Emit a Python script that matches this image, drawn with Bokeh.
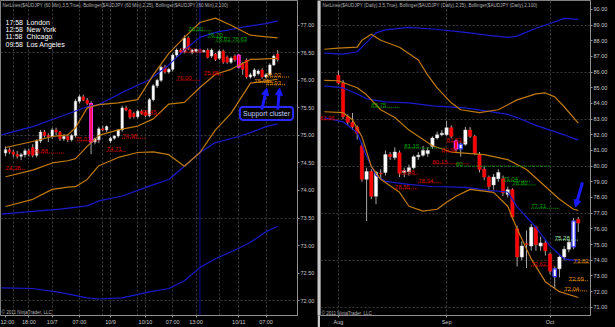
from bokeh.plotting import figure
from bokeh.layouts import row
from bokeh.models import ColumnDataSource, FixedTicker, Label, Range1d, Arrow, NormalHead, CustomJSTickFormatter
from bokeh.embed import file_html
from bokeh.resources import INLINE
from bokeh.core.properties import value

FONT = "Liberation Sans"
BG = "black"

# ---------------- Left panel: AUDJPY 60 Min ----------------
L_ticks = [0, 6, 12, 19, 27, 36, 43, 49, 60, 67]
L_tick_labels = ["12:00", "18:00", "10/7", "07:00", "10/9", "10/10", "07:00", "13:00", "10/11", "07:00"]
L_grid_x = [2, 6, 12, 19, 25, 27, 34, 36, 43, 49, 55, 60, 67]
L_grid_y = [72.0, 73.5, 75.0, 76.5]
L_yticks = [72.0, 72.5, 73.0, 73.5, 74.0, 74.5, 75.0, 75.5, 76.0, 76.5, 77.0]

L_idx = list(range(71))
L_open = [74.68, 74.74, 74.70, 74.66, 74.62, 74.65, 74.72, 74.78, 74.64, 74.90,
          75.06, 75.00, 74.98, 75.10, 75.06, 74.94, 74.98, 74.92, 75.00, 75.62,
          75.70, 75.64, 75.58, 74.88, 74.92, 75.12, 75.10, 74.90, 74.95, 74.99,
          75.10, 75.50, 75.46, 75.40, 75.34, 75.44, 75.42, 75.36, 75.65, 75.90,
          76.00, 76.24, 76.15, 76.20, 76.46, 76.55, 76.52, 76.77, 76.51, 76.53,
          76.56, 76.52, 76.55, 76.44, 76.48, 76.40, 76.53, 76.42, 76.33, 76.44,
          76.46, 76.30, 76.37, 76.06, 76.08, 76.12, 76.19, 76.06, 76.10, 76.28,
          76.48]
L_high = [74.80, 74.78, 74.74, 74.72, 74.68, 74.76, 74.76, 74.84, 74.93, 75.10,
          75.10, 75.04, 75.14, 75.14, 75.08, 75.02, 75.02, 75.03, 75.66, 75.74,
          75.74, 75.68, 75.62, 74.96, 75.16, 75.18, 75.18, 74.98, 75.00, 75.12,
          75.54, 75.54, 75.48, 75.43, 75.47, 75.47, 75.45, 75.68, 75.93, 76.03,
          76.27, 76.28, 76.23, 76.49, 76.58, 76.58, 76.82, 76.80, 76.57, 76.58,
          76.58, 76.56, 76.58, 76.58, 76.50, 76.56, 76.56, 76.45, 76.43, 76.47,
          76.48, 76.33, 76.40, 76.14, 76.22, 76.20, 76.22, 76.13, 76.31, 76.47,
          76.55]
L_low = [74.62, 74.66, 74.60, 74.58, 74.55, 74.60, 74.62, 74.60, 74.60, 74.86,
         74.96, 74.88, 74.94, 75.00, 74.90, 74.90, 74.88, 74.89, 74.96, 75.58,
         75.62, 75.55, 74.66, 74.84, 74.86, 75.08, 75.06, 74.86, 74.92, 74.96,
         75.07, 75.44, 75.30, 75.31, 75.31, 75.37, 75.33, 75.33, 75.62, 75.86,
         75.97, 76.12, 76.12, 76.16, 76.42, 76.48, 76.49, 76.55, 76.47, 76.50,
         76.49, 76.50, 76.40, 76.41, 76.35, 76.37, 76.30, 76.30, 76.30, 76.34,
         76.21, 76.10, 76.03, 76.03, 76.05, 76.09, 76.03, 76.03, 76.08, 76.26,
         76.34]
L_close = [74.74, 74.70, 74.66, 74.62, 74.65, 74.72, 74.66, 74.64, 74.90, 75.06,
           75.00, 74.98, 75.10, 75.06, 74.94, 74.98, 74.92, 75.00, 75.62, 75.70,
           75.64, 75.58, 74.88, 74.94, 75.12, 75.10, 75.16, 74.95, 74.99, 75.10,
           75.50, 75.46, 75.33, 75.34, 75.44, 75.40, 75.36, 75.65, 75.90, 76.00,
           76.24, 76.15, 76.20, 76.46, 76.55, 76.52, 76.77, 76.58, 76.55, 76.56,
           76.52, 76.54, 76.42, 76.55, 76.38, 76.53, 76.33, 76.33, 76.40, 76.37,
           76.24, 76.20, 76.06, 76.10, 76.19, 76.17, 76.06, 76.10, 76.28, 76.44,
           76.38]
L_hl_idx = [22, 60]
L_hl_color = ["#ff30ff", "#ff30ff"]

# Bollinger (2, 25) - orange
L_bb20_x = [0, 7, 12, 16, 18, 21, 24, 29, 34, 38, 42, 46, 50, 54, 58, 63, 70]
L_bb20_up = [74.78, 74.89, 74.98, 75.01, 75.14, 75.50, 75.56, 75.59, 75.65, 76.10,
             76.49, 76.78, 77.05, 77.13, 77.00, 76.82, 76.77]
L_bb20_mid = [74.25, 74.37, 74.50, 74.54, 74.58, 74.80, 75.00, 75.10, 75.17, 75.30,
              75.57, 75.60, 75.87, 76.11, 76.20, 76.38, 76.40]
L_bb20_lo = [73.71, 73.84, 74.02, 74.06, 74.07, 74.20, 74.45, 74.60, 74.69, 74.70,
             74.65, 74.44, 74.69, 75.10, 75.40, 75.95, 76.02]
# Bollinger (2, 100) - blue
L_bb100_x = [-1, 7, 14, 21, 24, 30, 37, 42, 46, 50, 54, 60, 63, 67, 70]
L_bb100_up = [75.01, 75.16, 75.34, 75.52, 75.56, 75.78, 76.01, 76.28, 76.55, 76.78,
              76.87, 76.95, 76.99, 77.03, 77.08]
L_bb100_mid = [73.57, 73.62, 73.66, 73.72, 73.81, 73.90, 74.08, 74.20, 74.44, 74.69,
               74.87, 74.98, 75.05, 75.16, 75.21]
L_bb100_lo = [72.23, 72.22, 72.15, 72.05, 72.03, 72.05, 72.16, 72.22, 72.36, 72.60,
              72.76, 72.95, 73.06, 73.25, 73.35]

# NetLines levels (left)
L_net_text = ["74.38", "74.88", "74.71", "74.98", "75.01", "75.45", "76.90", "76.70",
              "76.61 76.63", "76.51", "76.00", "75.88", "76.02", "75.96", "75.93"]
L_net_price = [74.38, 74.68, 74.71, 74.95, 74.90, 75.38, 76.90, 76.78, 76.70, 76.51,
               76.00, 76.10, 76.06, 75.96, 75.92]
L_net_x0 = [0, 7, 26, 30, 18, 35, 47, 52, 54, 45, 44, 51, 67, 64, 67]
L_net_x1 = [5, 15, 31, 36, 24, 40, 53, 57, 62, 51, 50, 56, 73, 69, 72]
L_net_color = ["#d00000", "#d00000", "#d00000", "#d00000", "#d00000", "#d00000",
               "#00a000", "#00a000", "#00a000", "#d00000", "#d00000", "#d00000",
               "#e08a00", "#e08a00", "#e08a00"]

L_marks_price = [77.08, 76.77, 76.40, 76.02, 75.21, 73.35]
L_marks_text = ["77.08", "76.77", "76.40", "76.02", "75.21", "73.35"]
L_marks_bg = ["#2a2aff", "#f0a020", "black", "#f0a020", "#2a2aff", "#2a2aff"]
L_marks_fg = ["white", "black", "white", "black", "white", "white"]
L_marks_border = [None, None, "white", None, None, None]

# ---------------- Right panel: AUDJPY Daily ----------------
R_ticks = [0, 23, 45]
R_tick_labels = ["Aug", "Sep", "Oct"]
R_grid_y = [71, 74, 77, 80, 83, 86, 89]
R_yticks = list(range(71, 91))

R_idx = list(range(52))
R_open = [85.80, 85.30, 83.15, 82.80, 82.50, 81.30, 79.16, 79.66, 78.08, 79.55,
          79.60, 80.74, 80.55, 80.85, 79.60, 79.65, 79.90, 80.60, 80.70, 80.80,
          81.25, 81.80, 82.00, 82.00, 82.45, 81.60, 81.10, 81.40, 82.30, 81.90,
          80.74, 79.80, 79.30, 78.80, 79.20, 79.20, 78.20, 78.50, 76.00, 74.20,
          75.05, 74.90, 76.10, 74.90, 75.10, 74.40, 72.95, 73.45, 74.20, 74.70,
          74.85, 76.60]
R_high = [86.10, 85.50, 83.30, 83.40, 82.60, 81.50, 79.90, 79.80, 79.70, 79.80,
          81.00, 80.90, 81.20, 81.00, 79.90, 80.10, 80.70, 80.90, 81.30, 81.20,
          81.90, 82.20, 82.30, 82.90, 82.60, 81.70, 81.50, 82.50, 82.50, 82.00,
          80.90, 80.00, 79.40, 79.50, 79.80, 79.40, 78.70, 78.60, 76.20, 75.20,
          75.90, 76.30, 76.20, 75.50, 75.30, 74.50, 73.60, 74.30, 74.90, 75.30,
          76.70, 76.75]
R_low = [85.20, 83.00, 82.60, 82.30, 81.70, 79.00, 76.50, 77.90, 77.57, 79.20,
         79.40, 80.40, 80.40, 79.30, 79.30, 79.40, 79.80, 80.40, 80.60, 80.60,
         81.10, 81.70, 81.90, 81.90, 81.80, 80.90, 80.60, 81.30, 81.80, 80.70,
         79.60, 79.10, 78.50, 78.50, 79.00, 78.10, 78.00, 76.60, 73.60, 74.00,
         73.50, 74.60, 74.60, 74.60, 74.30, 73.10, 72.20, 72.90, 74.00, 74.50,
         74.70, 75.80]
R_close = [85.30, 83.15, 82.80, 82.50, 82.10, 79.16, 79.66, 78.08, 79.60, 79.50,
           80.74, 80.60, 80.90, 79.55, 79.70, 79.90, 80.60, 80.70, 81.00, 81.00,
           81.80, 82.00, 82.10, 82.45, 81.90, 81.10, 81.40, 82.30, 81.90, 80.80,
           79.79, 79.30, 78.70, 79.30, 79.60, 78.30, 78.50, 76.75, 74.20, 74.90,
           75.00, 76.10, 75.00, 75.10, 74.60, 73.30, 73.45, 74.20, 74.70, 75.15,
           76.50, 76.37]
R_hl_idx = [25, 26, 46, 50]
R_hl_color = ["#ff30ff", "#3030ff", "#3030ff", "#3030ff"]

# Bollinger (2, 25) daily - orange
R_bbu_x = [-3, 0, 4, 5, 7, 9, 13, 17, 19, 21, 24, 26, 30, 34, 38, 42, 44, 46, 48, 51]
R_bbu_y = [87.46, 87.53, 87.59, 88.03, 88.41, 88.03, 87.59, 86.77, 85.81, 84.99,
           84.04, 83.60, 83.41, 83.60, 84.23, 84.61, 84.67, 84.42, 83.79, 82.74]
R_bbm_x = [-3, 0, 4, 6, 9, 12, 15, 20, 24, 31, 36, 40, 43, 47, 50, 51]
R_bbm_y = [85.47, 85.45, 85.00, 84.55, 83.60, 83.10, 82.30, 81.30, 80.90, 80.74,
           80.42, 79.79, 78.97, 77.89, 77.25, 77.18]
R_bbl_x = [-3, 1, 3, 5, 7, 9, 13, 15, 18, 21, 23, 25, 28, 33, 36, 38, 41, 44, 47, 51]
R_bbl_y = [83.47, 83.41, 82.96, 81.88, 79.98, 79.16, 78.33, 77.44, 77.13, 77.25,
           77.70, 78.08, 78.52, 78.33, 77.44, 75.99, 74.08, 72.63, 71.99, 71.62]
# Bollinger (2, 100) daily - blue
R_bb100_x = [-3, 1, 4, 6, 8, 10, 15, 20, 27, 32, 36, 38, 42, 45, 48, 51]
R_bb100_up = [87.21, 87.15, 87.30, 87.90, 88.50, 88.70, 88.86, 88.75, 88.54, 88.35,
              88.22, 88.30, 88.80, 89.10, 89.43, 89.36]
R_bb100_mid = [85.12, 84.99, 84.60, 84.30, 84.20, 84.10, 84.04, 83.85, 83.72, 83.50,
               83.30, 83.10, 82.60, 82.30, 82.00, 81.66]
R_bb100_lo = [83.09, 82.83, 82.14, 80.62, 79.40, 79.03, 78.84, 78.70, 78.65, 78.45,
              78.35, 77.40, 76.10, 74.91, 74.08, 73.96]

R_net_text = ["82.96", "83.75", "81.15", "81.53", "80.90", "80.15", "79.48", "78.94",
              "78.55", "80", "79.04", "78.80", "77.31", "73.62", "75.28", "73.82",
              "72.69", "72.04"]
R_net_price = [82.96, 83.75, 81.15, 81.53, 80.90, 80.15, 79.48, 78.94, 78.55, 80.00,
               79.04, 78.80, 77.31, 73.62, 75.28, 73.82, 72.69, 72.04]
R_net_x0 = [-4, 7, 14, 23, 22, 20, 13, 17, 12, 25, 35, 37, 41, 41, 46, 50, 49, 48]
R_net_x1 = [0, 13, 23, 27, 25, 28, 17, 22, 17, 45, 41, 42, 47, 46, 51, 54, 53, 53]
R_net_color = ["#d00000", "#00a000", "#00a000", "#d00000", "#d00000", "#d00000",
               "#d00000", "#d00000", "#d00000", "#00a000", "#00a000", "#00a000",
               "#00a000", "#d00000", "#a0e0a0", "#e08a00", "#e08a00", "#e08a00"]

R_marks_price = [89.36, 82.74, 81.66, 77.18, 76.37, 73.96, 71.62]
R_marks_text = ["89.36", "82.74", "81.66", "77.18", "76.37", "73.96", "71.62"]
R_marks_bg = ["#2a2aff", "#f0a020", "#2a2aff", "#f0a020", "black", "#2a2aff", "#f0a020"]
R_marks_fg = ["white", "black", "white", "black", "white", "white", "black"]
R_marks_border = [None, None, None, None, "white", None, None]

CLOCK_TIME = ["17:58", "12:58", "11:58", "09:58"]
CLOCK_CITY = ["London", "New York", "Chicago", "Los Angeles"]


def make_panel(width, frame_right, xr, yr, idx, o, h, l, c, bw, ticks, tick_labels,
               grid_x, grid_y, yticks, hl_idx, hl_color):
    p = figure(width=width, height=327, x_range=Range1d(*xr), y_range=Range1d(*yr),
               output_backend="svg", toolbar_location=None, y_axis_location="right",
               min_border_left=0, min_border_top=0, min_border_bottom=10,
               min_border_right=frame_right,
               background_fill_color=BG, border_fill_color=BG,
               outline_line_color="#808080", outline_line_width=1)
    for ax in (p.xaxis[0], p.yaxis[0]):
        ax.axis_line_color = "#909090"
        ax.major_tick_line_color = "#909090"
        ax.minor_tick_line_color = None
        ax.major_label_text_color = "#c8c8c8"
        ax.major_label_text_font = FONT
        ax.major_label_text_font_size = "5.5px"
        ax.major_tick_in = 0
        ax.major_tick_out = 2
        ax.major_label_standoff = 1
    p.xaxis.ticker = FixedTicker(ticks=ticks)
    p.xaxis.major_label_overrides = {t: s for t, s in zip(ticks, tick_labels)}
    p.yaxis.ticker = FixedTicker(ticks=yticks)
    p.yaxis.formatter = CustomJSTickFormatter(code="return tick.toFixed(2);")
    p.xgrid.ticker = FixedTicker(ticks=grid_x)
    p.ygrid.ticker = FixedTicker(ticks=grid_y)
    for g in (p.xgrid[0], p.ygrid[0]):
        g.grid_line_color = "#3c3c3c"
        g.grid_line_dash = "2 2"
        g.grid_line_width = 1

    up = [i for i in range(len(idx)) if c[i] >= o[i]]
    dn = [i for i in range(len(idx)) if c[i] < o[i]]
    src = ColumnDataSource(dict(x=idx, o=o, h=h, l=l, c=c))
    p.segment("x", "h", "x", "l", source=src, line_color="#a8a8a8", line_width=1)
    su = ColumnDataSource(dict(x=[idx[i] for i in up], o=[o[i] for i in up], c=[c[i] for i in up]))
    sd = ColumnDataSource(dict(x=[idx[i] for i in dn], o=[o[i] for i in dn], c=[c[i] for i in dn]))
    p.vbar(x="x", bottom="o", top="c", width=bw, source=su, fill_color="white",
           line_color="#d0d0d0", line_width=0.5)
    p.vbar(x="x", bottom="c", top="o", width=bw, source=sd, fill_color="#ff0000",
           line_color="#ff2020", line_width=0.5)
    sh = ColumnDataSource(dict(x=hl_idx, o=[o[i] for i in hl_idx], c=[c[i] for i in hl_idx],
                               col=hl_color))
    p.vbar(x="x", bottom="o", top="c", width=bw, source=sh, fill_color=None,
           line_color="col", line_width=1.2)
    return p


def add_line(p, xs, ys, color, width=1.2):
    p.line(xs, ys, line_color=color, line_width=width)


def add_netlines(p, x0, x1, price, text, color):
    s = ColumnDataSource(dict(x0=x0, x1=x1, y=price, t=text, c=color))
    p.segment("x0", "y", "x1", "y", source=s, line_color="c", line_dash="1 1", line_width=1)
    p.text("x0", "y", text="t", source=s, text_color="c", text_font=value(FONT),
           text_font_size=value("6px"), text_baseline="bottom", y_offset=0)


def add_marks(p, xs, price, text, bg, fg, border):
    for pr_, t, b, f, bd in zip(price, text, bg, fg, border):
        p.add_layout(Label(x=xs, y=pr_, x_units="screen", y_units="data", text=t,
                           text_font=FONT, text_font_size="5.5px", text_color=f,
                           text_baseline="middle", background_fill_color=b,
                           border_line_color=bd, border_line_width=1, padding=1,
                           border_radius=2))


# ---- Left panel ----
pl = make_panel(317, 19, (-1.3, 75.1), (71.73, 77.45), L_idx, L_open, L_high, L_low,
                L_close, 0.65, L_ticks, L_tick_labels, L_grid_x, L_grid_y, L_yticks,
                L_hl_idx, L_hl_color)
pl.line([50, 50], [71.73, 77.45], line_color="#1010a0", line_width=1)
for ys in (L_bb100_up, L_bb100_mid, L_bb100_lo):
    add_line(pl, L_bb100_x, ys, "#1a1ad0")
for ys in (L_bb20_up, L_bb20_mid, L_bb20_lo):
    add_line(pl, L_bb20_x, ys, "#c07a10")
add_netlines(pl, L_net_x0, L_net_x1, L_net_price, L_net_text, L_net_color)
add_marks(pl, 299, L_marks_price, L_marks_text, L_marks_bg, L_marks_fg, L_marks_border)

pl.add_layout(Label(x=2, y=77.36, x_units="screen", text=
                    "NetLines($AUDJPY (60 Min),3,5,True), Bollinger($AUDJPY (60 Min),2,25), Bollinger($AUDJPY (60 Min),2,100)",
                    text_font=FONT, text_font_size="4.6px", text_color="#b0b0b0",
                    text_baseline="middle"))
for k, (tm, cy) in enumerate(zip(CLOCK_TIME, CLOCK_CITY)):
    yy = [77.05, 76.93, 76.79, 76.66][k]
    pl.add_layout(Label(x=5, y=yy, x_units="screen", text=tm, text_font=FONT,
                        text_font_size="7px", text_color="white", text_baseline="middle"))
    pl.add_layout(Label(x=26, y=yy, x_units="screen", text=cy, text_font=FONT,
                        text_font_size="7px", text_color="white", text_baseline="middle"))
pl.add_layout(Label(x=1, y=71.78, x_units="screen", text="\u00a9 2011 NinjaTrader, LLC",
                    text_font=FONT, text_font_size="4.6px", text_color="#b0b0b0",
                    text_baseline="middle"))
pl.add_layout(Label(x=266, y=75.40, x_units="screen", text="Support cluster",
                    text_font=FONT, text_font_size="7px", text_color="#c0ccff",
                    text_align="center", text_baseline="middle",
                    background_fill_color="black", border_line_color="#2a2aff",
                    border_line_width=2, padding=3, border_radius=3))
for (xa, ya, xb, yb) in [(65.9, 75.47, 67.2, 75.86), (70.0, 75.47, 70.5, 75.86)]:
    pl.add_layout(Arrow(x_start=xa, y_start=ya, x_end=xb, y_end=yb, line_color="#1a1aff",
                        line_width=3, end=NormalHead(size=7, fill_color="#1a1aff",
                                                     line_color="#1a1aff")))

# ---- Separator ----
sep = figure(width=3, height=327, output_backend="svg", toolbar_location=None,
             min_border=0, background_fill_color="#c8c8c8", border_fill_color="#c8c8c8",
             outline_line_color=None)
sep.axis.visible = False
sep.grid.visible = False

# ---- Right panel ----
pr = make_panel(295, 25, (-3.8, 53.6), (70.47, 90.57), R_idx, R_open, R_high, R_low,
                R_close, 0.7, R_ticks, R_tick_labels, R_ticks, R_grid_y, R_yticks,
                R_hl_idx, R_hl_color)
for ys in (R_bb100_up, R_bb100_mid, R_bb100_lo):
    add_line(pr, R_bb100_x, ys, "#1a1ad0")
add_line(pr, R_bbu_x, R_bbu_y, "#c07a10")
add_line(pr, R_bbm_x, R_bbm_y, "#c07a10")
add_line(pr, R_bbl_x, R_bbl_y, "#c07a10")
add_netlines(pr, R_net_x0, R_net_x1, R_net_price, R_net_text, R_net_color)
add_marks(pr, 271, R_marks_price, R_marks_text, R_marks_bg, R_marks_fg, R_marks_border)
pr.add_layout(Label(x=2, y=90.25, x_units="screen", text=
                    "NetLines($AUDJPY (Daily),3,5,True), Bollinger($AUDJPY (Daily),2,25), Bollinger($AUDJPY (Daily),2,100)",
                    text_font=FONT, text_font_size="4.6px", text_color="#b0b0b0",
                    text_baseline="middle"))
pr.add_layout(Label(x=1, y=70.62, x_units="screen", text="\u00a9 2011 NinjaTrader, LLC",
                    text_font=FONT, text_font_size="4.6px", text_color="#b0b0b0",
                    text_baseline="middle"))
pr.add_layout(Arrow(x_start=51.9, y_start=78.97, x_end=50.4, y_end=77.38,
                    line_color="#1a1aff", line_width=3,
                    end=NormalHead(size=7, fill_color="#1a1aff", line_color="#1a1aff")))

layout = row(pl, sep, pr, spacing=0)
layout.styles = {"background-color": "black"}
open("out.html", "w").write(file_html(layout, INLINE))
